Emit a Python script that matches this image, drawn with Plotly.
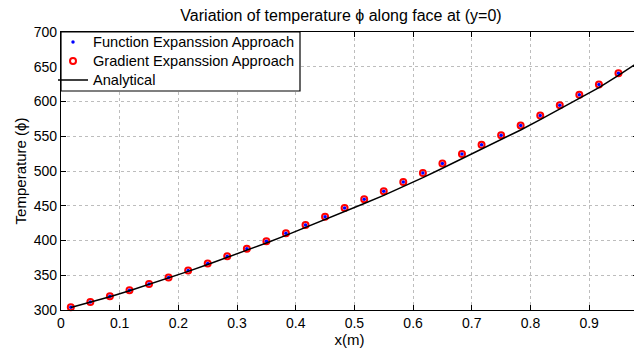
import plotly.graph_objects as go

x_vals = [0.0167, 0.05, 0.0833, 0.1167, 0.15, 0.1833, 0.2167, 0.25, 0.2833, 0.3167,
          0.35, 0.3833, 0.4167, 0.45, 0.4833, 0.5167, 0.55, 0.5833, 0.6167, 0.65,
          0.6833, 0.7167, 0.75, 0.7833, 0.8167, 0.85, 0.8833, 0.9167, 0.95, 0.9833]

function_exp = [304.0, 311.5, 319.8, 328.4, 337.5, 346.7, 356.8, 366.9, 377.4, 388.0,
                399.0, 410.6, 422.2, 434.2, 446.8, 459.3, 471.0, 484.0, 497.3, 510.8,
                524.4, 537.6, 551.5, 565.6, 580.0, 594.5, 609.6, 624.5, 640.5, 656.8]

gradient_exp = [304.0, 311.5, 319.8, 328.4, 337.5, 346.7, 356.8, 366.9, 377.4, 388.0,
                399.0, 410.6, 422.2, 434.2, 446.8, 459.3, 471.0, 484.0, 497.3, 510.8,
                524.4, 537.6, 551.5, 565.6, 580.0, 594.5, 609.6, 624.5, 640.5, 656.8]

analytical = [303.5, 311.0, 319.2, 327.8, 336.8, 346.0, 355.6, 365.4, 375.4, 385.7,
              396.5, 407.4, 418.6, 430.0, 441.6, 453.2, 465.0, 477.5, 490.5, 504.0,
              517.5, 531.0, 545.0, 559.0, 574.0, 589.5, 604.6, 620.0, 637.5, 656.3]

x_ticks = [0, 0.1, 0.2, 0.3, 0.4, 0.5, 0.6, 0.7, 0.8, 0.9]
x_tick_text = ["0", "0.1", "0.2", "0.3", "0.4", "0.5", "0.6", "0.7", "0.8", "0.9"]
y_ticks = [300, 350, 400, 450, 500, 550, 600, 650, 700]

FONT = "Liberation Sans, Arial, Helvetica, sans-serif"

# page body has an 8px margin, so the figure is drawn offset by 8px
W, H = 634, 342
ML, MR, MT, MB = 53, 4, 24, 40
PW, PH = W - ML - MR, H - MT - MB


def legend_name(s):
    return '<span style="font-size:14.6px">' + s + '</span>'


fig = go.Figure()
fig.add_trace(go.Scatter(
    x=x_vals, y=gradient_exp, mode="markers", name=legend_name("Gradient Expanssion Approach"),
    marker=dict(symbol="circle-open", size=6, color="#ff0000", line=dict(width=2, color="#ff0000")),
    legendrank=2, cliponaxis=False,
))
fig.add_trace(go.Scatter(
    x=x_vals, y=function_exp, mode="markers", name=legend_name("Function Expanssion Approach"),
    marker=dict(symbol="circle", size=3.5, color="#0000ff"),
    legendrank=1, cliponaxis=False,
))
fig.add_trace(go.Scatter(
    x=x_vals, y=analytical, mode="lines", name=legend_name("Analytical"),
    line=dict(color="black", width=1.5),
    legendrank=3,
))

axis_common = dict(
    showline=True, linecolor="black", linewidth=1.2, mirror="ticks",
    ticks="inside", ticklen=5, tickcolor="black",
    showgrid=True, gridcolor="#bdbdbd", griddash="dot", gridwidth=1,
    zeroline=False, tickfont=dict(family=FONT, size=14, color="black"),
    automargin=False,
)

# legend frame (drawn as a shape so the entries can sit closer to its left edge)
fig.add_shape(type="rect", xref="paper", yref="paper",
              x0=0, x1=(300 - 61) / PW, y0=1 - (91 - 32) / PH, y1=1,
              line=dict(color="black", width=1.2), fillcolor="white", layer="above")

fig.update_layout(
    width=W, height=H,
    margin=dict(l=ML, r=MR, t=MT, b=MB, autoexpand=False),
    paper_bgcolor="white", plot_bgcolor="white",
    font=dict(family=FONT, color="black"),
    title=dict(text="Variation of temperature ϕ along face at (y=0)",
               x=(341 - 8) / W, xanchor="center", xref="container",
               y=1 - (15 - 8) / H, yanchor="middle", yref="container",
               font=dict(family=FONT, size=16, color="black")),
    xaxis=dict(range=[0, 0.9833], tickvals=x_ticks, ticktext=x_tick_text,
               title=dict(text="x(m)", font=dict(family=FONT, size=15), standoff=1),
               **axis_common),
    yaxis=dict(range=[300, 700], tickvals=y_ticks,
               title=dict(text="Temperature (ϕ)", font=dict(family=FONT, size=15), standoff=3),
               **axis_common),
    legend=dict(x=-(61 - 53) / PW, y=1 + 4.5 / PH, xanchor="left", yanchor="top",
                bgcolor="rgba(0,0,0,0)", borderwidth=0,
                font=dict(family=FONT, size=12.3, color="black"),
                tracegroupgap=0, itemsizing="trace"),
    showlegend=True,
)

fig.write_html("out.html")
